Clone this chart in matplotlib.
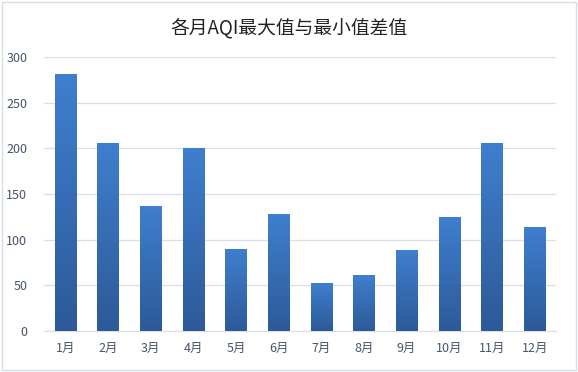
import numpy as np
import matplotlib
matplotlib.use('Agg')
import matplotlib.pyplot as plt
from matplotlib.patches import Rectangle
from matplotlib.colors import LinearSegmentedColormap

plt.rcParams['font.family'] = ['Noto Sans CJK SC', 'DejaVu Sans']

months = ['1月', '2月', '3月', '4月', '5月', '6月', '7月', '8月', '9月', '10月', '11月', '12月']
aqi_diff = [281, 206, 137, 200, 90, 128, 53, 61, 89, 125, 206, 114]
y_ticks = [0, 50, 100, 150, 200, 250, 300]

fig = plt.figure(figsize=(5.78, 3.72), dpi=100)
fig.patch.set_facecolor('white')
# outer border of the chart
fig.add_artist(Rectangle((0.004, 0.006), 0.992, 0.988, transform=fig.transFigure,
                         fill=False, edgecolor='#D9DCE3', linewidth=1))

ax = fig.add_axes([0.076, 0.110, 0.886, 0.737])
x = np.arange(len(months))
bars = ax.bar(x, aqi_diff, width=0.5, color='none', edgecolor='none', zorder=3)

# vertical gradient fill for each bar
cmap = LinearSegmentedColormap.from_list('bar', ['#2D5A98', '#3F7FCF'])
grad = np.linspace(0, 1, 256).reshape(-1, 1)
for b in bars:
    x0, w, h = b.get_x(), b.get_width(), b.get_height()
    im = ax.imshow(grad, cmap=cmap, origin='lower', aspect='auto',
                   extent=[x0, x0 + w, 0, h], zorder=3)
    im.set_clip_path(b)

ax.set_xlim(-0.5, len(months) - 0.5)
ax.set_ylim(0, 300)
ax.set_yticks(y_ticks)
ax.set_xticks(x)
ax.set_xticklabels(months)
ax.grid(axis='y', color='#D9DEE8', linewidth=0.9, zorder=0)
ax.set_axisbelow(True)
for s in ['top', 'right', 'left']:
    ax.spines[s].set_visible(False)
ax.spines['bottom'].set_color('#D9DEE8')
ax.tick_params(axis='both', length=0, labelsize=9, labelcolor='#44546A')
ax.tick_params(axis='x', pad=8)
ax.tick_params(axis='y', pad=12)

fig.text(0.5, 0.925, '各月AQI最大值与最小值差值', ha='center', va='center',
         fontsize=13.5, color='#222222')

fig.savefig('out.png', dpi=100)
